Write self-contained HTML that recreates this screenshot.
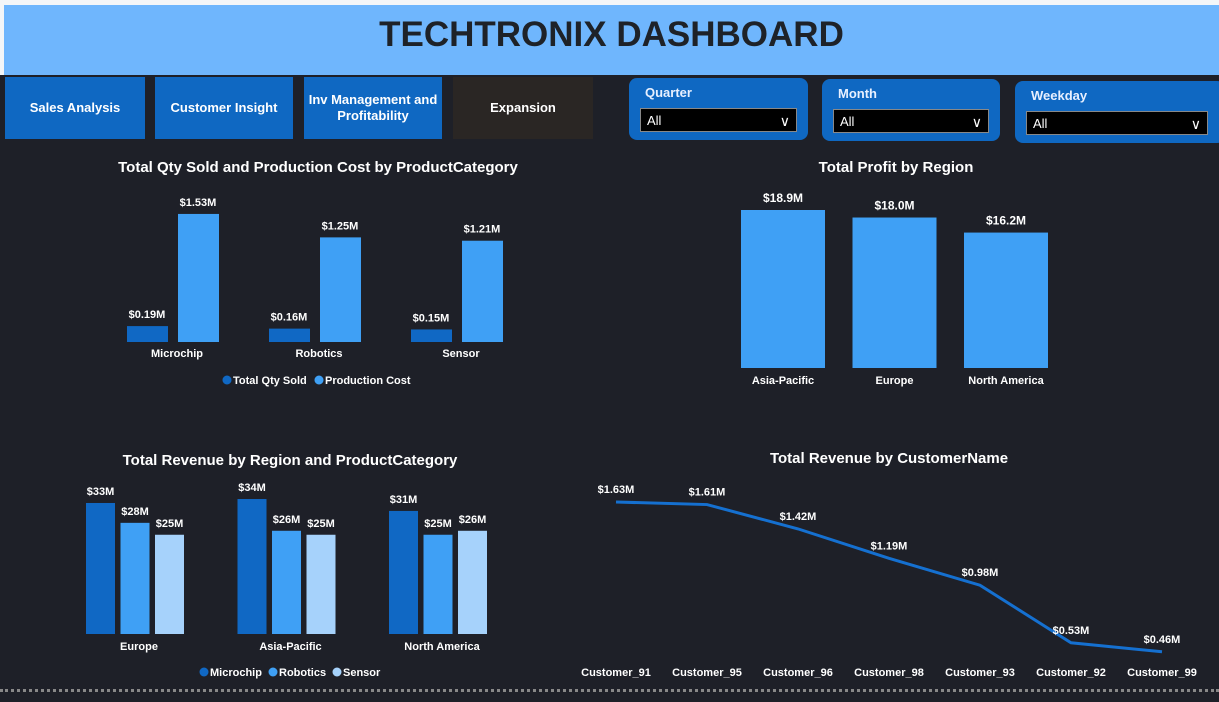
<!DOCTYPE html>
<html><head><meta charset="utf-8"><style>
body{margin:0;width:1219px;height:702px;background:#1e2028;font-family:"Liberation Sans",sans-serif;overflow:hidden;position:relative}
.abs{position:absolute}
.btn{position:absolute;top:77px;height:62px;background:#0f68c2;color:#fff;font-weight:bold;font-size:13px;display:flex;align-items:center;justify-content:center;text-align:center;line-height:16px}
.sl{position:absolute;background:#0f68c2;border-radius:8px}
.sl .lb{position:absolute;left:16px;top:7px;color:#e8f0ff;font-weight:bold;font-size:13px}
.sl .bx{position:absolute;left:11px;right:11px;bottom:8px;height:24px;background:#000;border:1px solid #888;color:#fff;font-size:13px;line-height:24px;padding-left:6px;box-sizing:border-box}
.sl .bx span{position:absolute;right:6px;top:0;font-size:14px}
svg text{font-family:"Liberation Sans",sans-serif;fill:#fff;font-weight:bold}
</style></head><body>
<div class="abs" style="left:0;top:0;width:1219px;height:75px;background:#f4f6f8"></div>
<div class="abs" style="left:4px;top:5px;width:1215px;height:70px;background:#6fb6fd;text-align:center;line-height:60px;font-size:35px;font-weight:bold;color:#1e2228">TECHTRONIX DASHBOARD</div>
<div class="btn" style="left:5px;width:140px">Sales Analysis</div>
<div class="btn" style="left:155px;width:138px">Customer Insight</div>
<div class="btn" style="left:304px;width:138px">Inv Management and<br>Profitability</div>
<div class="btn" style="left:453px;width:140px;background:#2a2624">Expansion</div>
<div class="sl" style="left:629px;top:78px;width:179px;height:62px"><div class="lb">Quarter</div><div class="bx">All<span>∨</span></div></div>
<div class="sl" style="left:822px;top:79px;width:178px;height:62px"><div class="lb">Month</div><div class="bx">All<span>∨</span></div></div>
<div class="sl" style="left:1015px;top:81px;width:210px;height:62px"><div class="lb">Weekday</div><div class="bx" style="right:17px">All<span>∨</span></div></div>
<div class="abs" style="left:0;top:689px;width:1219px;border-top:3px dotted #888"></div>
<svg id="s" class="abs" style="left:0;top:0" width="1219" height="702"></svg>
<script>
const c1Cats=["Microchip","Robotics","Sensor"];
const c1Qty=[0.19,0.16,0.15];
const c1Cost=[1.53,1.25,1.21];
const c2Cats=["Asia-Pacific","Europe","North America"];
const c2Profit=[18.9,18.0,16.2];
const c3Cats=["Europe","Asia-Pacific","North America"];
const c3Micro=[33,34,31];
const c3Robot=[28,26,25];
const c3Sensor=[25,25,26];
const c4Cats=["Customer_91","Customer_95","Customer_96","Customer_98","Customer_93","Customer_92","Customer_99"];
const c4Rev=[1.63,1.61,1.42,1.19,0.98,0.53,0.46];
const S=document.getElementById('s');const NS="http://www.w3.org/2000/svg";
function el(t,a,txt){const e=document.createElementNS(NS,t);for(const k in a)e.setAttribute(k,a[k]);if(txt!==undefined)e.textContent=txt;S.appendChild(e);return e;}
function tx(x,y,s,size,name,anchor){const e=el('text',{x:x,y:y,'font-size':size||11,'text-anchor':anchor||'middle'},s);

return e;}
function rect(x,y,w,h,f,name){const e=el('rect',{x:x,y:y,width:w,height:h,fill:f});

return e;}
const D="#1068c4",L="#3fa0f5",P="#a6d2fb";
tx(318,172,"Total Qty Sold and Production Cost by ProductCategory",15,"chart1-title");
const y1=v=>342-v*83.7;
c1Cats.forEach((c,i)=>{const x=127+i*142;
rect(x,y1(c1Qty[i]),41,342-y1(c1Qty[i]),D,"bar-qty-"+c);
tx(x+20,y1(c1Qty[i])-8,"$"+c1Qty[i].toFixed(2)+"M",11,"label-qty-"+c);
rect(x+51,y1(c1Cost[i]),41,342-y1(c1Cost[i]),L,"bar-cost-"+c);
tx(x+71,y1(c1Cost[i])-8,"$"+c1Cost[i].toFixed(2)+"M",11,"label-cost-"+c);
tx(x+50,357,c,11,"x-label-"+c);});
let e=el('circle',{cx:227,cy:380,r:4.5,fill:D});
tx(233,384,"Total Qty Sold",11,"legend-qty","start");
e=el('circle',{cx:319,cy:380,r:4.5,fill:L});
tx(325,384,"Production Cost",11,"legend-cost","start");
tx(896,172,"Total Profit by Region",15,"chart2-title");
const y2=v=>368-v*8.36;
c2Cats.forEach((c,i)=>{const x=741+i*111.5;
rect(x,y2(c2Profit[i]),84,368-y2(c2Profit[i]),L,"bar-profit-"+c);
tx(x+42,y2(c2Profit[i])-8,"$"+c2Profit[i].toFixed(1)+"M",12,"label-profit-"+c);
tx(x+42,384,c,11,"x-label-"+c);});
tx(290,465,"Total Revenue by Region and ProductCategory",15,"chart3-title");
const y3=v=>634-v*3.97;
const ser=[[c3Micro,D,"microchip"],[c3Robot,L,"robotics"],[c3Sensor,P,"sensor"]];
c3Cats.forEach((c,i)=>{const x=86+i*151.5;
ser.forEach((s,j)=>{const bx=x+j*34.5;const v=s[0][i];
rect(bx,y3(v),29,634-y3(v),s[1],"bar-rev-"+s[2]+"-"+c);
tx(bx+14.5,y3(v)-8,"$"+v+"M",11,"label-rev-"+s[2]+"-"+c);});
tx(x+53,650,c,11,"x-label-"+c);});
[["Microchip",204,D],["Robotics",273,L],["Sensor",337,P]].forEach(l=>{
const c=el('circle',{cx:l[1],cy:672,r:4.5,fill:l[2]});
tx(l[1]+6,676,l[0],11,"legend-"+l[0],"start");});
tx(889,463,"Total Revenue by CustomerName",15,"chart4-title");
const x4=i=>616+i*91, y4=v=>502+(1.63-v)*128;
const pts=c4Rev.map((v,i)=>x4(i)+","+y4(v)).join(" ");
const pl=el('polyline',{points:pts,fill:"none",stroke:"#1570d0","stroke-width":3});


c4Cats.forEach((c,i)=>{tx(x4(i),y4(c4Rev[i])-9,"$"+c4Rev[i].toFixed(2)+"M",11,"label-"+c);
tx(x4(i),676,c,11,"x-label-"+c);});
</script>
</body></html>
